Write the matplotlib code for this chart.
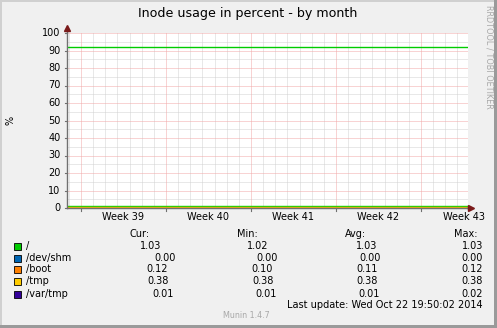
import matplotlib.pyplot as plt
from matplotlib.patches import Rectangle

# data
series = ["/", "/dev/shm", "/boot", "/tmp", "/var/tmp"]
colors = ["#00CC00", "#0066B3", "#FF8000", "#FFCC00", "#330099"]
cur = ["1.03", "0.00", "0.12", "0.38", "0.01"]
mins = ["1.02", "0.00", "0.10", "0.38", "0.01"]
avgs = ["1.03", "0.00", "0.11", "0.38", "0.01"]
maxs = ["1.03", "0.00", "0.12", "0.38", "0.02"]
level = [1.03, 0.00, 0.11, 0.38, 0.01]
warning = 92
weeks = ["Week 39", "Week 40", "Week 41", "Week 42", "Week 43"]
y_ticks = [0, 10, 20, 30, 40, 50, 60, 70, 80, 90, 100]

# x in days from Mon Sep 22 00:00
x_start, x_end = -1.15, 31.87

W, H = 497, 328
fig = plt.figure(figsize=(W / 100, H / 100), dpi=100)
fig.patch.set_facecolor("#f0f0f0")

def px(x, y):
    return x / W, 1 - y / H

# frame (3d look)
fig.add_artist(Rectangle((0, 1 - 2 / H), 1, 2 / H, transform=fig.transFigure, color="#d0d0d0", lw=0))
fig.add_artist(Rectangle((0, 0), 2 / W, 1, transform=fig.transFigure, color="#d0d0d0", lw=0))
fig.add_artist(Rectangle((0, 0), 1, 3 / H, transform=fig.transFigure, color="#9a9a9a", lw=0))
fig.add_artist(Rectangle((1 - 3 / W, 0), 3 / W, 1, transform=fig.transFigure, color="#9a9a9a", lw=0))

L, R, T, B = 67, 468, 33, 208
ax = fig.add_axes([L / W, 1 - B / H, (R - L) / W, (B - T) / H])
ax.set_facecolor("white")
ax.set_xlim(x_start, x_end)
ax.set_ylim(0, 100)
for s in ax.spines.values():
    s.set_visible(False)
ax.set_xticks([])
ax.set_yticks([])

dot = (0, (1, 1))
# minor grid
for d in range(-1, 32):
    if d % 7 != 0:
        ax.axvline(d, color="#d2d2d2", lw=0.72, ls=dot)
for v in range(5, 100, 10):
    ax.axhline(v, color="#d2d2d2", lw=0.72, ls=dot)
# major grid
for d in range(0, 32, 7):
    ax.axvline(d, color="#f2a8a8", lw=0.72, ls=dot)
for v in y_ticks[1:]:
    ax.axhline(v, color="#f2a8a8", lw=0.72, ls=dot)

ax.axhline(warning, color="#00CC00", lw=1.0)

for name, c, v in zip(series, colors, level):
    ax.plot([x_start, x_end], [v, v], color=c, lw=1.0, solid_capstyle="butt")

# axes with arrows
ax.plot([x_start, x_start], [0, 102.5], color="#707070", lw=1.0, clip_on=False)
ax.plot([x_end - 0.1, x_end + 0.2], [0, 0], color="#707070", lw=1.0, clip_on=False)
ax.plot([x_start, x_end], [0, 0], color="#707070", lw=1.0, clip_on=False, zorder=1.5)
ax.plot([x_start], [103], marker="^", color="#7a1a1a", ms=4.5, clip_on=False)
ax.plot([x_end + 0.25], [0], marker=">", color="#7a1a1a", ms=4.5, clip_on=False)
for v in y_ticks:
    ax.plot([x_start - 0.15, x_start], [v, v], color="#707070", lw=0.8, clip_on=False)
for d in range(0, 32, 7):
    ax.plot([d, d], [0, -1.5], color="#707070", lw=0.8, clip_on=False)

for v in y_ticks:
    ax.text(x_start - 0.55, v, str(v), ha="right", va="center", fontsize=7, color="black")
for i, w in enumerate(weeks):
    ax.text(i * 7 + 3.5, -2.5, w, ha="center", va="top", fontsize=7, color="black")

fig.text(*px(248, 13), "Inode usage in percent - by month", ha="center", va="center", fontsize=9.1)
fig.text(*px(10, 120), "%", ha="center", va="center", rotation=90, fontsize=7)
fig.text(*px(489, 57), "RRDTOOL / TOBI OETIKER", ha="center", va="center", rotation=270,
         fontsize=5.9, color="#a8a8a8")

# legend table
fig.text(*px(130, 234), "Cur:", ha="left", va="center", fontsize=7)
fig.text(*px(237, 234), "Min:", ha="left", va="center", fontsize=7)
fig.text(*px(345, 234), "Avg:", ha="left", va="center", fontsize=7)
fig.text(*px(454, 234), "Max:", ha="left", va="center", fontsize=7)

row_y = [246, 258, 269, 281, 294]
cur_r = [161, 176, 168, 169, 174]
min_r = [268, 278, 273, 274, 277]
avg_r = [377, 381, 378, 378, 380]
for i, name in enumerate(series):
    y = row_y[i]
    fig.add_artist(Rectangle(px(13.5, y + 3.5), 7 / W, 7 / H, transform=fig.transFigure,
                             facecolor=colors[i], edgecolor="black", lw=0.6))
    fig.text(*px(26, y), name, ha="left", va="center", fontsize=7)
    fig.text(*px(cur_r[i], y), cur[i], ha="right", va="center", fontsize=7)
    fig.text(*px(min_r[i], y), mins[i], ha="right", va="center", fontsize=7)
    fig.text(*px(avg_r[i], y), avgs[i], ha="right", va="center", fontsize=7)
    fig.text(*px(483, y), maxs[i], ha="right", va="center", fontsize=7)

fig.text(*px(483, 305), "Last update: Wed Oct 22 19:50:02 2014", ha="right", va="center", fontsize=7)
fig.text(*px(246, 316), "Munin 1.4.7", ha="center", va="center", fontsize=5.8, color="#a8a8a8")

fig.savefig("out.png", dpi=100, facecolor=fig.get_facecolor())
